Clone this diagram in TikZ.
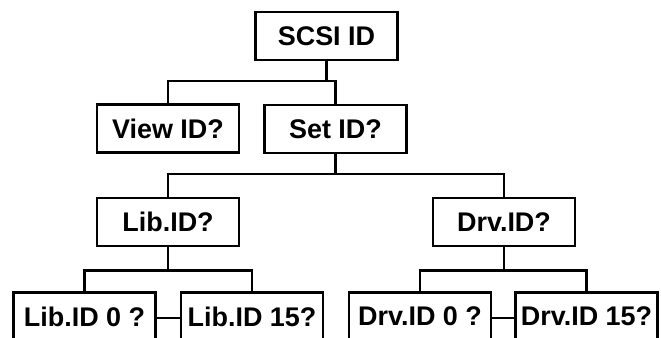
\documentclass[tikz,border=0pt]{standalone}
\usepackage{fontspec}
\setmainfont{Liberation Sans}
\usetikzlibrary{positioning}

\begin{document}
\begin{tikzpicture}[
    line width=2.4pt,
    menubox/.style = {rectangle, draw=black, line width=2.4pt, minimum width=4.26cm,
                      minimum height=1.44cm, inner sep=0pt, font=\fontsize{23}{26}\selectfont\bfseries},
    link/.style    = {draw=black, line width=2.4pt},
]
\useasboundingbox (0, 0) rectangle (19.83, -10.14);

% top level
\node[menubox] (scsi) at (9.795, -1.08) {SCSI ID};

% second level
\node[menubox] (view) at (5.04, -3.855)  {View ID?};
\node[menubox] (set)  at (10.065, -3.87) {Set ID?};

% third level
\node[menubox] (lib) at (5.04, -6.66)  {Lib.ID?};
\node[menubox] (drv) at (15.12, -6.66) {Drv.ID?};

% bottom level
\node[menubox] (lib0)  at (2.535, -9.495)  {Lib.ID 0 ?};
\node[menubox] (lib15) at (7.56, -9.495)   {Lib.ID 15?};
\node[menubox] (drv0)  at (12.6, -9.495)   {Drv.ID 0 ?};
\node[menubox] (drv15) at (17.595, -9.495) {Drv.ID 15?};

% branch levels
\coordinate (bar1) at (0, -2.43);
\coordinate (bar2) at (0, -5.22);
\coordinate (bar3) at (0, -8.115);

% scsi -> view, set
\draw[link] (scsi.south) -- (scsi.south |- bar1);
\draw[link] (view.north) -- (view.north |- bar1) -- (set.north |- bar1) -- (set.north);

% set -> lib, drv
\draw[link] (set.south) -- (set.south |- bar2);
\draw[link] (lib.north) -- (lib.north |- bar2) -- (drv.north |- bar2) -- (drv.north);

% lib -> lib0, lib15
\draw[link] (lib.south) -- (lib.south |- bar3);
\draw[link] (lib0.north) -- (lib0.north |- bar3) -- (lib15.north |- bar3) -- (lib15.north);

% drv -> drv0, drv15
\draw[link] (drv.south) -- (drv.south |- bar3);
\draw[link] (drv0.north) -- (drv0.north |- bar3) -- (drv15.north |- bar3) -- (drv15.north);

% ranges
\draw[link] ([yshift=-0.045cm]lib0.east) -- ([yshift=-0.045cm]lib15.west);
\draw[link] ([yshift=-0.045cm]drv0.east) -- ([yshift=-0.045cm]drv15.west);

\end{tikzpicture}
\end{document}
